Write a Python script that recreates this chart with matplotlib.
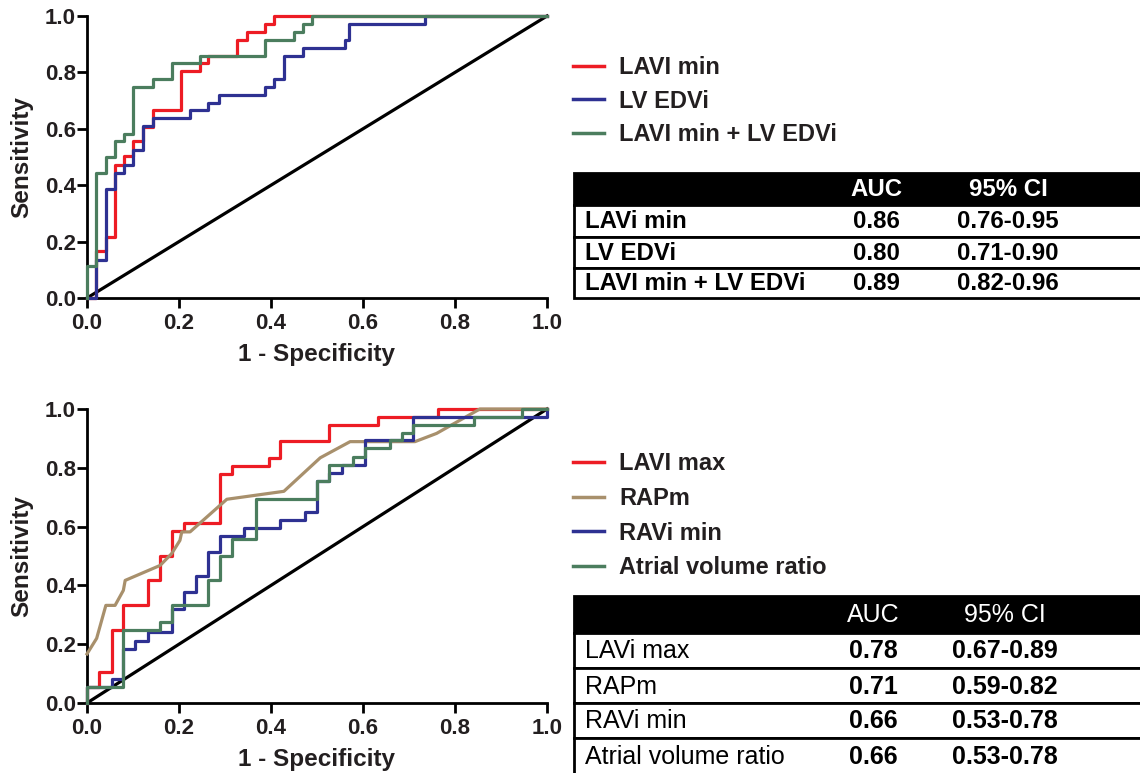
import matplotlib
matplotlib.use("Agg")
import matplotlib.pyplot as plt
from matplotlib.patches import Rectangle
from matplotlib.lines import Line2D

plt.rcParams['font.family'] = ['Liberation Sans', 'DejaVu Sans']

# ---------------- data: top panel (ROC jump points, steps-post) ----------------
lavi_min_x = [0, 0.0196, 0.041, 0.061, 0.081, 0.101, 0.121, 0.143, 0.204, 0.246, 0.264, 0.325, 0.347, 0.387, 0.407, 1.0]
lavi_min_y = [0, 0.165, 0.218, 0.472, 0.502, 0.555, 0.608, 0.667, 0.805, 0.832, 0.858, 0.915, 0.942, 0.972, 1.0, 1.0]

lvedvi_x = [0, 0.0196, 0.041, 0.061, 0.081, 0.101, 0.122, 0.143, 0.224, 0.264, 0.286, 0.387, 0.407, 0.428, 0.469, 0.56, 0.570, 0.735, 1.0]
lvedvi_y = [0, 0.136, 0.387, 0.443, 0.472, 0.525, 0.610, 0.638, 0.667, 0.693, 0.720, 0.747, 0.776, 0.859, 0.888, 0.915, 0.972, 1.0, 1.0]

combo_x = [0, 0, 0.0196, 0.041, 0.061, 0.081, 0.101, 0.143, 0.184, 0.246, 0.387, 0.449, 0.469, 0.49, 1.0]
combo_y = [0, 0.112, 0.443, 0.5, 0.555, 0.582, 0.747, 0.776, 0.832, 0.859, 0.915, 0.942, 0.972, 1.0, 1.0]

top_labels = ["LAVI min", "LV EDVi", "LAVI min + LV EDVi"]
top_table_rows = ["LAVi min", "LV EDVi", "LAVI min + LV EDVi"]
top_auc = ["0.86", "0.80", "0.89"]
top_ci = ["0.76-0.95", "0.71-0.90", "0.82-0.96"]

# ---------------- data: bottom panel ----------------
lavi_max_x = [0, 0, 0.025, 0.054, 0.079, 0.133, 0.159, 0.184, 0.211, 0.289, 0.316, 0.396, 0.42, 0.525, 0.632, 0.764, 1.0]
lavi_max_y = [0, 0.053, 0.107, 0.249, 0.332, 0.417, 0.499, 0.584, 0.6125, 0.778, 0.807, 0.834, 0.891, 0.945, 0.974, 1.0, 1.0]

rapm_x = [0, 0.021, 0.041, 0.061, 0.079, 0.083, 0.159, 0.184, 0.202, 0.206, 0.224, 0.304, 0.428, 0.507, 0.572, 0.637, 0.713, 0.760, 0.854, 1.0]
rapm_y = [0.167, 0.220, 0.332, 0.332, 0.383, 0.417, 0.468, 0.508, 0.553, 0.582, 0.582, 0.693, 0.720, 0.834, 0.889, 0.889, 0.889, 0.917, 1.0, 1.0]

ravi_min_x = [0, 0, 0.054, 0.079, 0.104, 0.133, 0.184, 0.211, 0.237, 0.264, 0.289, 0.341, 0.42, 0.474, 0.501, 0.527, 0.554, 0.604, 0.709, 1.0]
ravi_min_y = [0, 0.053, 0.080, 0.184, 0.2125, 0.241, 0.320, 0.377, 0.431, 0.514, 0.568, 0.595, 0.624, 0.650, 0.755, 0.784, 0.811, 0.894, 0.974, 1.0]

avr_x = [0, 0, 0.079, 0.159, 0.184, 0.264, 0.289, 0.316, 0.367, 0.501, 0.527, 0.579, 0.604, 0.659, 0.684, 0.709, 0.841, 0.945, 1.0]
avr_y = [0, 0.053, 0.247, 0.275, 0.332, 0.417, 0.499, 0.557, 0.693, 0.755, 0.809, 0.8375, 0.866, 0.894, 0.920, 0.945, 0.974, 1.0, 1.0]

bot_labels = ["LAVI max", "RAPm", "RAVi min", "Atrial volume ratio"]
bot_table_rows = ["LAVi max", "RAPm", "RAVi min", "Atrial volume ratio"]
bot_auc = ["0.78", "0.71", "0.66", "0.66"]
bot_ci = ["0.67-0.89", "0.59-0.82", "0.53-0.78", "0.53-0.78"]

ticks = [0.0, 0.2, 0.4, 0.6, 0.8, 1.0]

RED = '#ED1C24'
BLUE = '#2E3192'
GREEN = '#4B7D5E'
TAN = '#A8906C'
LW = 2.3
TXT = '#231F20'

W, H = 1140, 773
fig = plt.figure(figsize=(W / 100, H / 100), dpi=100)


def fx(px):
    return px / W


def fy(py):
    return 1 - py / H


def style_axes(ax):
    ax.set_xlim(0, 1)
    ax.set_ylim(0, 1)
    ax.set_xticks(ticks)
    ax.set_yticks(ticks)
    ax.set_xticklabels([f"{t:.1f}" for t in ticks])
    ax.set_yticklabels([f"{t:.1f}" for t in ticks])
    for s in ['top', 'right']:
        ax.spines[s].set_visible(False)
    for s in ['left', 'bottom']:
        ax.spines[s].set_linewidth(2.0)
    ax.tick_params(width=2.0, length=7, labelsize=16, labelcolor=TXT)
    ax.tick_params(axis='x', pad=4)
    ax.tick_params(axis='y', pad=1)
    for lab in ax.get_xticklabels() + ax.get_yticklabels():
        lab.set_fontweight('bold')
    ax.set_xlabel("1 - Specificity", fontsize=17.5, fontweight='bold', color=TXT, labelpad=6)
    ax.set_ylabel("Sensitivity", fontsize=17.5, fontweight='bold', color=TXT, labelpad=8)
    ax.plot([0, 1], [0, 1], color='black', lw=LW, clip_on=False, zorder=1)


def draw_table(edges, header, rows, aucs, cis, fs, label_bold, header_bold, auc_cx, ci_cx):
    left, right = 574, 1160
    fig.patches.append(Rectangle((fx(left), fy(edges[1])), fx(right) - fx(left), fy(edges[0]) - fy(edges[1]),
                                 transform=fig.transFigure, facecolor='black', edgecolor='black', lw=2))
    for i in range(1, len(edges) - 1):
        fig.patches.append(Rectangle((fx(left), fy(edges[i + 1])), fx(right) - fx(left), fy(edges[i]) - fy(edges[i + 1]),
                                     transform=fig.transFigure, facecolor='white', edgecolor='black', lw=2))
    hc = (edges[0] + edges[1]) / 2 + 1
    fig.text(fx(auc_cx), fy(hc), header[0], color='white', fontsize=fs, ha='center', va='center',
             fontweight='bold' if header_bold else 'normal')
    fig.text(fx(ci_cx), fy(hc), header[1], color='white', fontsize=fs, ha='center', va='center',
             fontweight='bold' if header_bold else 'normal')
    for i, (r, a, c) in enumerate(zip(rows, aucs, cis)):
        cy = (edges[i + 1] + edges[i + 2]) / 2 + 1
        fig.text(fx(585), fy(cy), r, color='black', fontsize=fs, ha='left', va='center',
                 fontweight='bold' if label_bold else 'normal')
        fig.text(fx(auc_cx), fy(cy), a, color='black', fontsize=fs, ha='center', va='center', fontweight='bold')
        fig.text(fx(ci_cx), fy(cy), c, color='black', fontsize=fs, ha='center', va='center', fontweight='bold')


# ---------------- top panel ----------------
ax1 = fig.add_axes([fx(87), fy(298), 460 / W, 282 / H])
style_axes(ax1)
ax1.plot(lvedvi_x, lvedvi_y, drawstyle='steps-post', color=BLUE, lw=LW, clip_on=False, zorder=3, label=top_labels[1])
ax1.plot(lavi_min_x, lavi_min_y, drawstyle='steps-post', color=RED, lw=LW, clip_on=False, zorder=2, label=top_labels[0])
ax1.plot(combo_x, combo_y, drawstyle='steps-post', color=GREEN, lw=LW, clip_on=False, zorder=4, label=top_labels[2])

h1 = [Line2D([], [], color=c, lw=2.5) for c in (RED, BLUE, GREEN)]
fig.legend(h1, top_labels, loc='upper left', bbox_to_anchor=(fx(573), fy(56)), frameon=False,
           prop={'weight': 'bold', 'size': 17}, handlelength=1.3, handletextpad=0.65,
           labelspacing=0.45, borderpad=0, borderaxespad=0, labelcolor=TXT)

draw_table([173, 205, 237, 268, 298], ["AUC", "95% CI"], top_table_rows, top_auc, top_ci,
           fs=17.3, label_bold=True, header_bold=True, auc_cx=876, ci_cx=1008)

# ---------------- bottom panel ----------------
ax2 = fig.add_axes([fx(87), fy(703), 460 / W, 294 / H])
style_axes(ax2)
ax2.plot(lavi_max_x, lavi_max_y, drawstyle='steps-post', color=RED, lw=LW, clip_on=False, zorder=2, label=bot_labels[0])
ax2.plot(rapm_x, rapm_y, color=TAN, lw=LW, clip_on=False, zorder=3, label=bot_labels[1])
ax2.plot(ravi_min_x, ravi_min_y, drawstyle='steps-post', color=BLUE, lw=LW, clip_on=False, zorder=4, label=bot_labels[2])
ax2.plot(avr_x, avr_y, drawstyle='steps-post', color=GREEN, lw=LW, clip_on=False, zorder=5, label=bot_labels[3])

h2 = [Line2D([], [], color=c, lw=2.5) for c in (RED, TAN, BLUE, GREEN)]
fig.legend(h2, bot_labels, loc='upper left', bbox_to_anchor=(fx(573), fy(452)), frameon=False,
           prop={'weight': 'bold', 'size': 17}, handlelength=1.3, handletextpad=0.65,
           labelspacing=0.5, borderpad=0, borderaxespad=0, labelcolor=TXT)

draw_table([596, 633, 668, 703, 738, 775], ["AUC", "95% CI"], bot_table_rows, bot_auc, bot_ci,
           fs=18, label_bold=False, header_bold=False, auc_cx=873, ci_cx=1005)

fig.savefig("out.png", dpi=100)
